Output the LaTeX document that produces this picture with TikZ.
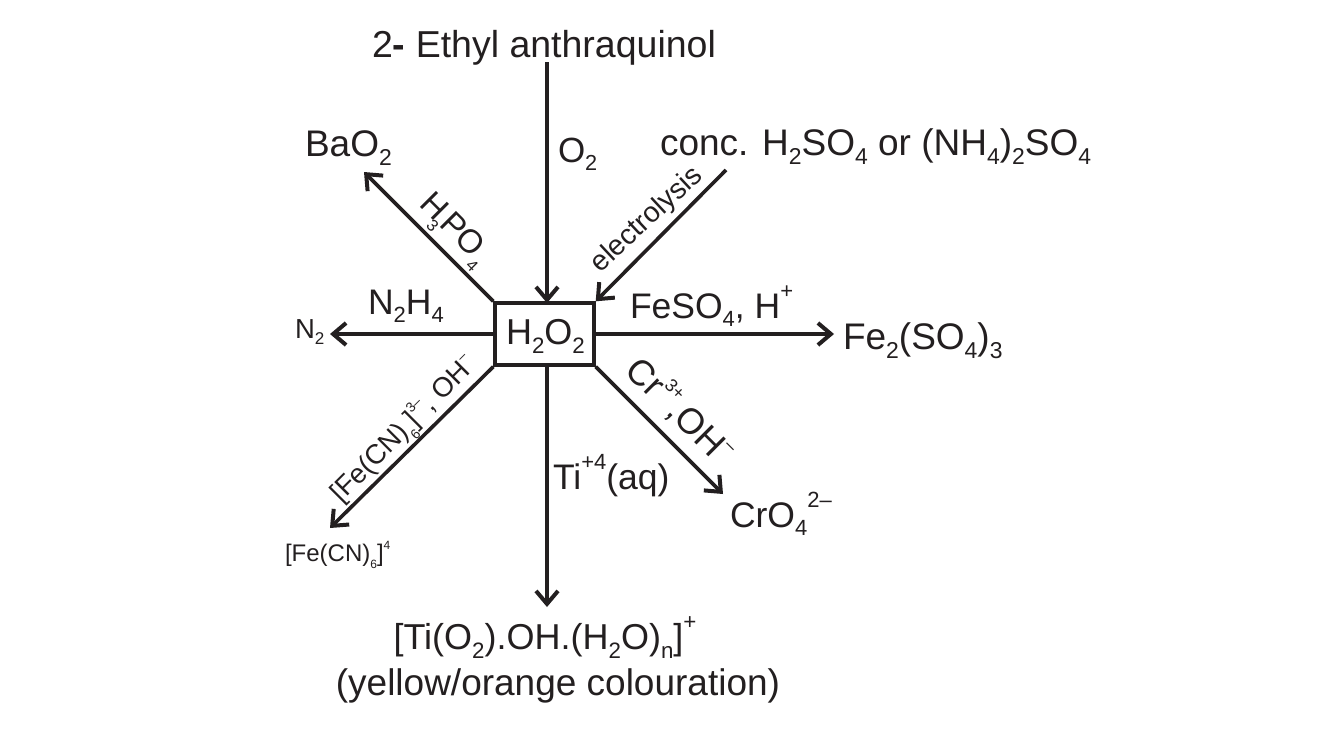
\documentclass[tikz,border=0pt]{standalone}
\usepackage{fontspec}
\setmainfont{Liberation Sans}
\usetikzlibrary{arrows.meta}
\newcommand{\dn}[1]{\raisebox{-.25em}{\scalebox{.62}{#1}}}
\newcommand{\up}[1]{\raisebox{.55em}{\scalebox{.62}{#1}}}
\newcommand{\tdn}[1]{\raisebox{-.3em}{\scalebox{.5}{#1}}}
\newcommand{\tup}[1]{\raisebox{.5em}{\scalebox{.5}{#1}}}
\newcommand{\fs}[1]{\fontsize{#1}{#1}\selectfont}
\definecolor{ink}{HTML}{231F20}
\tikzset{
  lab/.style={inner sep=0pt,outer sep=0pt,text=ink,font=\fs{37}},
  rlab/.style={inner sep=0pt,outer sep=0pt,text=ink,font=\fs{33}},
  conn/.style={ink,line width=3.6pt,-{Straight Barb[length=13pt,width=22pt,line width=4pt]}},
  plainbox/.style={draw=ink,line width=3.4pt,minimum width=99pt,minimum height=62pt,inner sep=0pt,text=ink}
}
\begin{document}
\begin{tikzpicture}[x=1pt,y=-1pt]
\useasboundingbox (0,0) rectangle (1324,737);
\fill[white] (0,0) rectangle (1324,737);
\node[plainbox] (box) at (544.5,334) {};
\node[lab,anchor=base west,font=\fs{36}] (h) at (506,344) {H\dn{2}O\dn{2}};
\node[lab,anchor=base west,font=\fs{37.5}] (top) at (372,57) {2\textbf{-} Ethyl anthraquinol};
\node[lab,anchor=base west] (bao) at (305,156) {BaO\dn{2}};
\node[lab,anchor=base west,font=\fs{35}] (o2) at (558,162) {O\dn{2}};
\node[lab,anchor=base west] (conc) at (660,155) {conc. H\dn{2}SO\dn{4} or (NH\dn{4})\dn{2}SO\dn{4}};
\node[lab,anchor=base west,font=\fs{35.5}] (nh) at (368,314) {N\dn{2}H\dn{4}};
\node[lab,anchor=base west,font=\fs{27.5}] (n2) at (295,338) {N\dn{2}};
\node[lab,anchor=base west,font=\fs{35.5}] (feso) at (630,318) {FeSO\dn{4}, H\up{+}};
\node[lab,anchor=base west] (fes) at (843,349) {Fe\dn{2}(SO\dn{4})\dn{3}};
\node[lab,anchor=base west,font=\fs{35.5}] (ti) at (553,489) {Ti\up{+4}(aq)};
\node[lab,anchor=base west,font=\fs{35.5}] (cro) at (730,527) {CrO\dn{4}\up{2–}};
\node[lab,anchor=base west,font=\fs{24}] (fer) at (285,561) {[Fe(CN)\tdn{6}]\tup{4}};
\node[lab,anchor=base,font=\fs{36}] (tio) at (545,649) {[Ti(O\dn{2}).OH.(H\dn{2}O)\dn{n}]\up{+}};
\node[lab,anchor=base] (yel) at (558,695) {(yellow/orange colouration)};
\node[rlab,rotate=-45] (hp) at (453,231) {H\kern-.12em\tdn{3}\kern-.03em PO\tdn{4}};
\node[rlab,rotate=43,font=\fs{28.5}] (el) at (647,220) {electrolysis};
\node[rlab,rotate=45,font=\fs{27.5}] (fc) at (404,430) {[Fe(CN)\tdn{6}]\tup{3–}, OH\tup{–}};
\node[rlab,rotate=-45,font=\fs{36}] (cr) at (680,410) {Cr\tup{3+},OH\tup{–}};
\coordinate (a) at (547,62);
\coordinate (b) at (547,303);
\coordinate (c) at (726,170);
\coordinate (d) at (364,172);
\coordinate (e) at (330,334);
\coordinate (f) at (834,334);
\coordinate (g) at (723,494);
\coordinate (i) at (547,607);
\coordinate (j) at (330,528);
\draw[conn] (a) -- (b);
\draw[conn] (c) -- (box.north east);
\draw[conn] (box.north west) -- (d);
\draw[conn] (box.west) -- (e);
\draw[conn] (box.east) -- (f);
\draw[conn] (box.south east) -- (g);
\draw[conn] (box.south -| i) -- (i);
\draw[conn] (box.south west) -- (j);
\end{tikzpicture}
\end{document}
